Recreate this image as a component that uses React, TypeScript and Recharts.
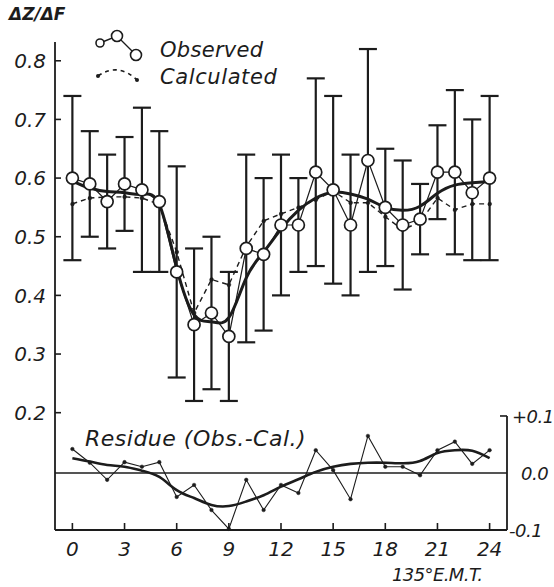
import React from 'react';
import { ComposedChart, Line, XAxis, YAxis, ErrorBar, ReferenceLine, Legend } from 'recharts';

const INK = '#1c1c1c';
const FONT = '"DejaVu Sans", sans-serif';

const hours = [0, 1, 2, 3, 4, 5, 6, 7, 8, 9, 10, 11, 12, 13, 14, 15, 16, 17, 18, 19, 20, 21, 22, 23, 24];
const observed = [0.60, 0.59, 0.56, 0.59, 0.58, 0.56, 0.44, 0.35, 0.37, 0.33, 0.48, 0.47, 0.52, 0.52, 0.61, 0.58, 0.52, 0.63, 0.55, 0.52, 0.53, 0.61, 0.61, 0.575, 0.60];
const observedHigh = [0.74, 0.68, 0.64, 0.67, 0.72, 0.68, 0.62, 0.48, 0.50, 0.44, 0.64, 0.60, 0.64, 0.60, 0.77, 0.74, 0.64, 0.82, 0.65, 0.63, 0.59, 0.69, 0.75, 0.70, 0.74];
const observedLow = [0.46, 0.50, 0.48, 0.51, 0.44, 0.44, 0.26, 0.22, 0.24, 0.22, 0.32, 0.34, 0.40, 0.44, 0.45, 0.42, 0.40, 0.44, 0.45, 0.41, 0.47, 0.53, 0.47, 0.46, 0.46];
const calculated = [0.556, 0.566, 0.568, 0.568, 0.566, 0.555, 0.474, 0.37, 0.427, 0.418, 0.483, 0.527, 0.539, 0.55, 0.563, 0.578, 0.558, 0.558, 0.534, 0.512, 0.525, 0.566, 0.546, 0.556, 0.556];
const smoothFit = [0.595, 0.583, 0.577, 0.575, 0.572, 0.555, 0.447, 0.367, 0.355, 0.362, 0.43, 0.474, 0.513, 0.545, 0.566, 0.576, 0.573, 0.564, 0.55, 0.545, 0.552, 0.574, 0.588, 0.592, 0.594];
const residue = [0.042, 0.018, -0.012, 0.019, 0.011, 0.019, -0.042, -0.021, -0.065, -0.098, -0.012, -0.065, -0.021, -0.035, 0.04, 0.005, -0.046, 0.065, 0.011, 0.011, -0.004, 0.04, 0.055, 0.016, 0.04];
const residueSmooth = [0.026, 0.02, 0.014, 0.011, 0.004, -0.007, -0.03, -0.044, -0.056, -0.058, -0.05, -0.039, -0.024, -0.011, 0.002, 0.011, 0.016, 0.018, 0.018, 0.017, 0.021, 0.035, 0.04, 0.039, 0.026];

const xTicks = [0, 3, 6, 9, 12, 15, 18, 21, 24];
const leftTicks = [0.2, 0.3, 0.4, 0.5, 0.6, 0.7, 0.8];
const rightTicks = [-0.1, 0, 0.1];
const rightTickLabels = ['-0.1', '0.0', '+0.1'];

const data = hours.map((h, i) => ({
  hour: h,
  obs: observed[i],
  err: [observed[i] - observedLow[i], observedHigh[i] - observed[i]],
  calc: calculated[i],
  fit: smoothFit[i],
  res: residue[i],
  resFit: residueSmooth[i],
}));

const XTick = (props: any) => {
  const { x, y, payload } = props;
  return (
    <g>
      <line x1={x} x2={x} y1={y} y2={y - 7} stroke={INK} strokeWidth={1.6} />
      <text x={x} y={y + 26} textAnchor="middle" fontSize={20} fontStyle="italic" fill={INK} fontFamily={FONT}>
        {payload.value}
      </text>
    </g>
  );
};

const LeftTick = (props: any) => {
  const { x, y, payload } = props;
  return (
    <g>
      <line x1={x} x2={x + 6} y1={y} y2={y} stroke={INK} strokeWidth={1.6} />
      <text x={x - 9} y={y} dy="0.36em" textAnchor="end" fontSize={20} fontStyle="italic" fill={INK} fontFamily={FONT}>
        {Number(payload.value).toFixed(1)}
      </text>
    </g>
  );
};

const RightTick = (props: any) => {
  const { x, y, payload } = props;
  const idx = rightTicks.indexOf(payload.value);
  const v = payload.value;
  const offset = v > 0 ? 5 : v < 0 ? 2 : 14;
  return (
    <g>
      {v > 0 && <line x1={x - 7} x2={x} y1={y} y2={y} stroke={INK} strokeWidth={1.6} />}
      <text x={x + offset} y={y} dy="0.4em" textAnchor="start" fontSize={18} fontStyle="italic" fill={INK} fontFamily={FONT} letterSpacing={-0.5}>
        {idx >= 0 ? rightTickLabels[idx] : v}
      </text>
    </g>
  );
};

const LegendContent = () => (
  <svg width={230} height={64} style={{ display: 'block' }}>
    <polyline points="10,15 27,8 46,27" fill="none" stroke={INK} strokeWidth={1.4} />
    <circle cx={10} cy={15} r={4} fill="#fff" stroke={INK} strokeWidth={1.6} />
    <circle cx={27} cy={8} r={5.5} fill="#fff" stroke={INK} strokeWidth={1.6} />
    <circle cx={46} cy={27} r={5.5} fill="#fff" stroke={INK} strokeWidth={1.6} />
    <path d="M8,48 Q28,34 47,52" fill="none" stroke={INK} strokeWidth={1.6} strokeDasharray="4 4" />
    <circle cx={8} cy={48} r={2} fill={INK} />
    <circle cx={47} cy={52} r={2} fill={INK} />
    <text x={70} y={29} fontSize={21} fontStyle="italic" fill={INK} fontFamily={FONT} letterSpacing={0.3}>Observed</text>
    <text x={70} y={56} fontSize={21} fontStyle="italic" fill={INK} fontFamily={FONT} letterSpacing={0.6}>Calculated</text>
  </svg>
);

const overlayText: React.CSSProperties = {
  position: 'absolute',
  fontFamily: FONT,
  fontStyle: 'italic',
  color: INK,
  whiteSpace: 'nowrap',
  lineHeight: 1,
};

export default function App() {
  return (
    <div style={{ position: 'absolute', left: 0, top: 0, width: 554, height: 587, background: '#fff', overflow: 'hidden' }}>
      <ComposedChart width={554} height={587} data={data} margin={{ top: 42, right: 0, bottom: 0, left: 0 }}>
        <XAxis
          dataKey="hour"
          type="number"
          domain={[-1, 25]}
          ticks={xTicks}
          height={57}
          tickSize={0}
          tickMargin={0}
          tickLine={false}
          axisLine={{ stroke: INK, strokeWidth: 1.8 }}
          tick={<XTick />}
          interval={0}
        />
        <YAxis
          yAxisId="left"
          type="number"
          domain={[0, 0.832]}
          ticks={leftTicks}
          width={55}
          tickSize={0}
          tickMargin={0}
          tickLine={false}
          axisLine={{ stroke: INK, strokeWidth: 1.8 }}
          tick={<LeftTick />}
          interval={0}
        />
        <YAxis
          yAxisId="right"
          orientation="right"
          type="number"
          domain={[-0.1, 0.756]}
          ticks={rightTicks}
          width={47}
          tickSize={0}
          tickMargin={0}
          tickLine={false}
          axisLine={false}
          tick={<RightTick />}
          interval={0}
        />
        <Legend
          layout="vertical"
          align="center"
          verticalAlign="middle"
          content={<LegendContent />}
          wrapperStyle={{ position: 'absolute', left: 90, top: 28, width: 230, height: 64 }}
        />
        <ReferenceLine yAxisId="right" y={0} stroke={INK} strokeWidth={1.5} />
        <ReferenceLine
          yAxisId="right"
          segment={[{ x: 25, y: -0.1 }, { x: 25, y: 0.1 }]}
          stroke={INK}
          strokeWidth={1.8}
        />
        <Line
          yAxisId="right"
          dataKey="res"
          type="linear"
          stroke={INK}
          strokeWidth={1.1}
          dot={{ r: 1.8, fill: INK, stroke: INK, strokeWidth: 0.5 }}
          isAnimationActive={false}
        />
        <Line
          yAxisId="right"
          dataKey="resFit"
          type="natural"
          stroke={INK}
          strokeWidth={2.6}
          dot={false}
          isAnimationActive={false}
        />
        <Line
          yAxisId="left"
          dataKey="calc"
          type="linear"
          stroke={INK}
          strokeWidth={1.4}
          strokeDasharray="5 4"
          dot={{ r: 2, fill: INK, stroke: INK, strokeWidth: 0.5 }}
          isAnimationActive={false}
        />
        <Line
          yAxisId="left"
          dataKey="fit"
          type="natural"
          stroke={INK}
          strokeWidth={3}
          dot={false}
          isAnimationActive={false}
        />
        <Line
          yAxisId="left"
          dataKey="obs"
          type="linear"
          stroke={INK}
          strokeWidth={1.2}
          dot={{ r: 6, fill: '#fff', stroke: INK, strokeWidth: 1.7 }}
          isAnimationActive={false}
        >
          <ErrorBar dataKey="err" direction="y" width={9} stroke={INK} strokeWidth={2.2} />
        </Line>
      </ComposedChart>
      <div style={{ ...overlayText, left: 9, top: 6, fontSize: 17, fontWeight: 'bold' }}>ΔZ/ΔF</div>
      <div style={{ ...overlayText, left: 85, top: 428, fontSize: 22, letterSpacing: 0.5 }}>Residue (Obs.-Cal.)</div>
      <div style={{ ...overlayText, left: 392, top: 566, fontSize: 18, letterSpacing: -0.6 }}>135°E.M.T.</div>
    </div>
  );
}
